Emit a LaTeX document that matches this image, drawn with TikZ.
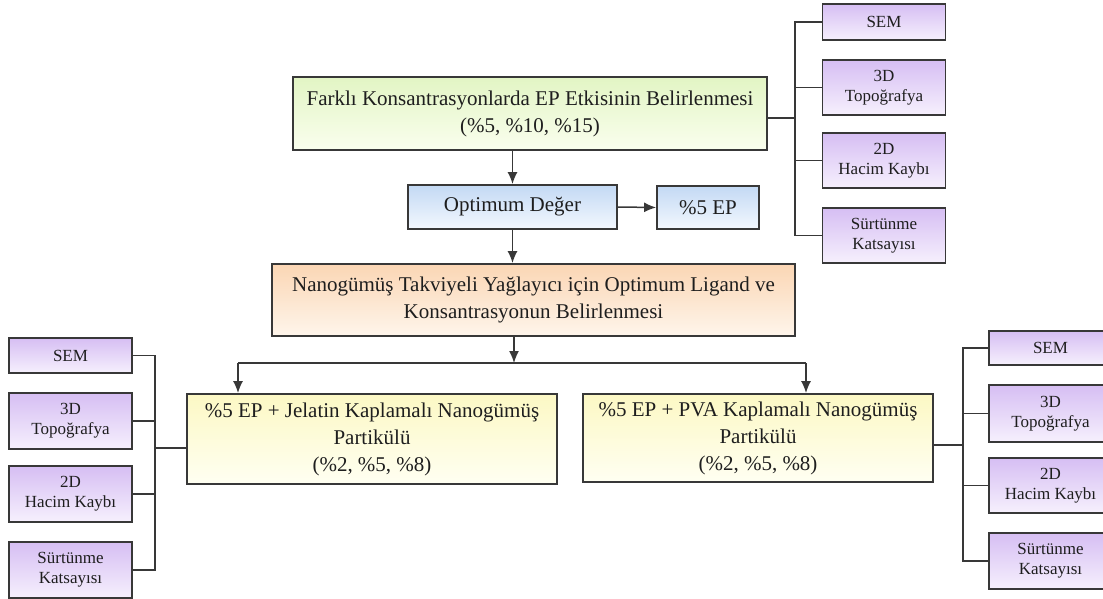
\documentclass[tikz,border=0pt]{standalone}
\usepackage{fontspec}
\setmainfont{Liberation Serif}
\usetikzlibrary{arrows.meta}
\definecolor{edge}{HTML}{383838}
\definecolor{txt}{HTML}{1E1E1E}
\definecolor{gtop}{HTML}{E2F5C4}\definecolor{gbot}{HTML}{FAFEEE}
\definecolor{btop}{HTML}{C3D9F4}\definecolor{bbot}{HTML}{F3F8FE}
\definecolor{otop}{HTML}{FBD6B4}\definecolor{obot}{HTML}{FEF5EB}
\definecolor{ytop}{HTML}{FCF8C4}\definecolor{ybot}{HTML}{FFFFF2}
\definecolor{ptop}{HTML}{D6BEF3}\definecolor{pbot}{HTML}{F6F0FD}
\tikzset{
  x=1pt, y=-1pt,
  box/.style={draw=edge, line width=1.8pt, rectangle, inner sep=0pt, align=center,
    text=txt, font=\fontsize{21}{27}\selectfont},
  greenbox/.style={box, top color=gtop, bottom color=gbot},
  bluebox/.style={box, top color=btop, bottom color=bbot},
  orangebox/.style={box, top color=otop, bottom color=obot},
  yellowbox/.style={box, top color=ytop, bottom color=ybot},
  purplebox/.style={box, top color=ptop, bottom color=pbot, font=\fontsize{17}{20}\selectfont,
    minimum width=123pt},
  conn/.style={draw=edge, line width=1.5pt},
  arr/.style={conn, -{Latex[length=12pt,width=10pt]}}
}
\begin{document}
\begin{tikzpicture}
\useasboundingbox (0,0) rectangle (1103,599);
\clip (0,0) rectangle (1103,599);
\fill[white] (0,0) rectangle (1103,599);

% main chain
\node[greenbox, minimum width=474pt, minimum height=73pt] (green) at (530,113.5)
  {Farklı Konsantrasyonlarda EP Etkisinin Belirlenmesi\\(\%5, \%10, \%15)};
\node[bluebox, minimum width=209pt, minimum height=44pt] (opt) at (512.5,207) {Optimum Değer};
\node[bluebox, minimum width=102pt, minimum height=43pt] (ep) at (708,207.5) {\%5 EP};
\node[orangebox, minimum width=523pt, minimum height=72pt] (orange) at (533.5,300)
  {Nanogümüş Takviyeli Yağlayıcı için Optimum Ligand ve\\Konsantrasyonun Belirlenmesi};
\node[yellowbox, minimum width=370pt, minimum height=90pt] (yl) at (372,439)
  {\%5 EP + Jelatin Kaplamalı Nanogümüş\\Partikülü\\(\%2, \%5, \%8)};
\node[yellowbox, minimum width=350pt, minimum height=88pt] (yr) at (758,438)
  {\%5 EP + PVA Kaplamalı Nanogümüş\\Partikülü\\(\%2, \%5, \%8)};

% top-right analyses
\node[purplebox, minimum height=36pt] (tsem) at (884,22) {SEM};
\node[purplebox, minimum height=55pt] (ttopo) at (884,87.5) {3D\\Topoğrafya};
\node[purplebox, minimum height=55pt] (thac) at (884,160.5) {2D\\Hacim Kaybı};
\node[purplebox, minimum height=55pt] (tsur) at (884,235.5) {Sürtünme\\Katsayısı};

% left analyses
\node[purplebox, minimum height=35pt] (lsem) at (70.5,355.5) {SEM};
\node[purplebox, minimum height=56pt] (ltopo) at (70.5,421) {3D\\Topoğrafya};
\node[purplebox, minimum height=56pt] (lhac) at (70.5,494) {2D\\Hacim Kaybı};
\node[purplebox, minimum height=56pt] (lsur) at (70.5,570) {Sürtünme\\Katsayısı};

% bottom-right analyses
\node[purplebox, minimum height=34pt] (rsem) at (1050.5,348) {SEM};
\node[purplebox, minimum height=57pt] (rtopo) at (1050.5,413.5) {3D\\Topoğrafya};
\node[purplebox, minimum height=55pt] (rhac) at (1050.5,485.5) {2D\\Hacim Kaybı};
\node[purplebox, minimum height=56pt] (rsur) at (1050.5,561) {Sürtünme\\Katsayısı};

% chain arrows
\draw[arr] (opt.north |- green.south) -- (opt.north);
\draw[arr] (opt.east) -- (ep.west);
\draw[arr] (opt.south) -- (opt.south |- orange.north);
\coordinate (split) at (514,363);
\coordinate (jl) at (238,363);
\coordinate (jr) at (806,363);
\draw[arr] (split |- orange.south) -- (split);
\draw[conn] (jl) -- (jr);
\draw[arr] (jl) -- (jl |- yl.north);
\draw[arr] (jr) -- (jr |- yr.north);

% top-right bracket
\coordinate (tr) at (795,118);
\draw[conn] (green.east |- tr) -- (tr);
\foreach \n in {tsem,ttopo,thac,tsur} \draw[conn] (tr) |- (\n.west);

% left bracket
\coordinate (bl) at (155,448);
\draw[conn] (bl) -- (bl -| yl.west);
\foreach \n in {lsem,ltopo,lhac,lsur} \draw[conn] (\n.east) -| (bl);

% bottom-right bracket
\coordinate (br) at (963,445);
\draw[conn] (yr.east |- br) -- (br);
\foreach \n in {rsem,rtopo,rhac,rsur} \draw[conn] (br) |- (\n.west);
\end{tikzpicture}
\end{document}
